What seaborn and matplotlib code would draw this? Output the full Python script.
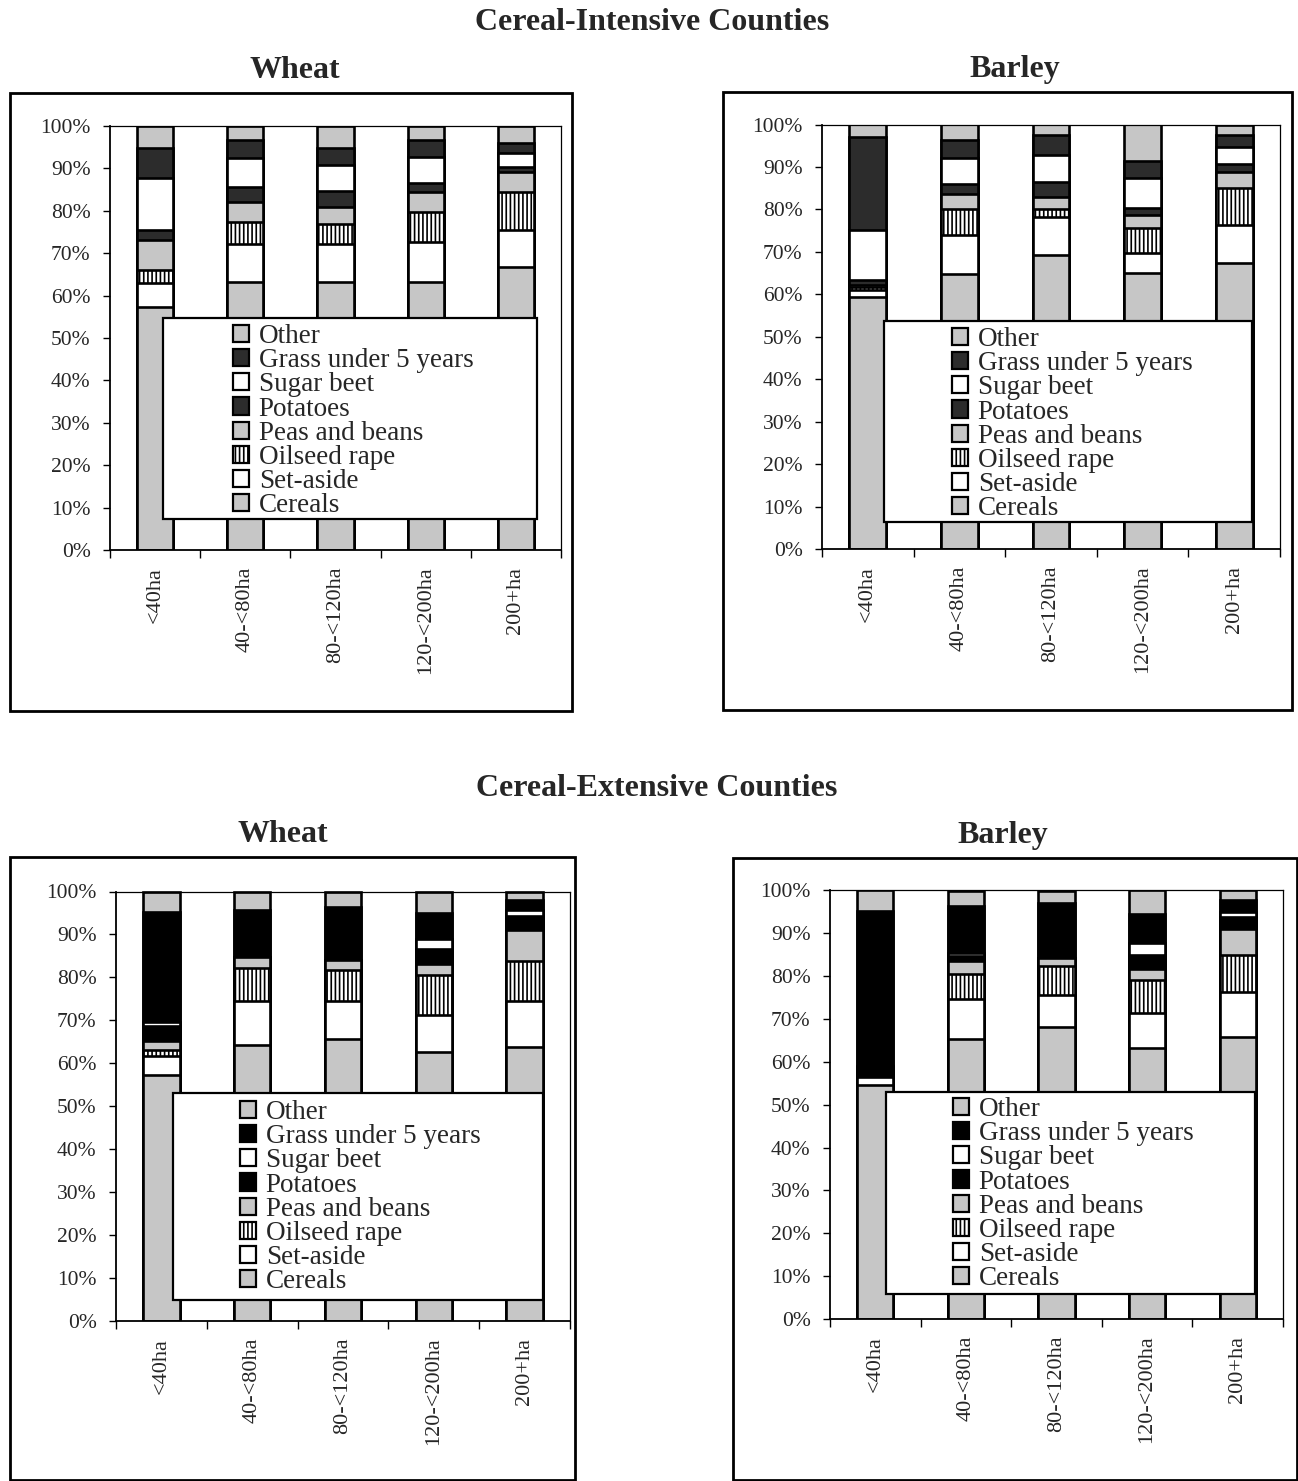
import numpy as np
import matplotlib
matplotlib.use("Agg")
import matplotlib.pyplot as plt
from matplotlib.patches import Patch, Rectangle
from matplotlib.ticker import FixedLocator, FuncFormatter
import seaborn as sns

# Farm size bands on the x axis
SIZES = ["<40ha", "40-<80ha", "80-<120ha", "120-<200ha", "200+ha"]

# Crops, stacked from the bottom of each bar to the top
CROPS = ["Cereals", "Set-aside", "Oilseed rape", "Peas and beans",
         "Potatoes", "Sugar beet", "Grass under 5 years", "Other"]

# Share of farmed area (%) per size band
intensive_wheat = {
    "Cereals":             [57.4, 63.3, 63.3, 63.3, 66.7],
    "Set-aside":           [5.5, 8.8, 8.8, 9.4, 8.8],
    "Oilseed rape":        [3.1, 5.3, 4.7, 6.9, 9.0],
    "Peas and beans":      [7.1, 4.6, 4.0, 4.9, 4.6],
    "Potatoes":            [2.4, 3.7, 3.9, 2.0, 1.3],
    "Sugar beet":          [12.2, 6.7, 6.1, 6.3, 3.2],
    "Grass under 5 years": [7.0, 4.3, 3.9, 3.9, 2.3],
    "Other":               [5.3, 3.3, 5.3, 3.3, 4.1],
}
intensive_barley = {
    "Cereals":             [59.4, 64.7, 69.2, 64.9, 67.3],
    "Set-aside":           [1.7, 9.2, 9.0, 4.9, 9.0],
    "Oilseed rape":        [0.6, 6.2, 1.9, 5.9, 8.8],
    "Peas and beans":      [0.6, 3.6, 2.9, 2.9, 3.7],
    "Potatoes":            [1.0, 2.4, 3.5, 1.8, 1.8],
    "Sugar beet":          [11.8, 5.9, 6.3, 6.9, 4.1],
    "Grass under 5 years": [22.0, 4.3, 4.7, 4.1, 2.8],
    "Other":               [2.9, 3.7, 2.5, 8.6, 2.5],
}
extensive_wheat = {
    "Cereals":             [57.2, 64.2, 65.7, 62.6, 63.7],
    "Set-aside":           [4.6, 10.2, 8.7, 8.7, 10.8],
    "Oilseed rape":        [1.2, 7.7, 7.3, 9.2, 9.4],
    "Peas and beans":      [2.1, 2.7, 2.3, 2.7, 7.1],
    "Potatoes":            [3.6, 0.0, 0.0, 3.4, 3.3],
    "Sugar beet":          [1.0, 0.0, 0.0, 2.4, 1.3],
    "Grass under 5 years": [25.6, 11.0, 12.5, 5.9, 2.4],
    "Other":               [4.7, 4.2, 3.5, 5.1, 2.0],
}
extensive_barley = {
    "Cereals":             [54.6, 65.4, 68.1, 63.3, 65.7],
    "Set-aside":           [1.8, 9.3, 7.6, 8.2, 10.7],
    "Oilseed rape":        [0.0, 5.7, 6.6, 7.6, 8.5],
    "Peas and beans":      [0.0, 3.1, 2.0, 2.5, 6.0],
    "Potatoes":            [2.3, 1.3, 0.0, 3.4, 2.8],
    "Sugar beet":          [0.4, 0.5, 0.0, 2.8, 1.3],
    "Grass under 5 years": [36.2, 11.1, 12.8, 6.8, 2.8],
    "Other":               [4.7, 3.6, 2.9, 5.4, 2.2],
}

sns.set_theme(style="white")
plt.rcParams["font.family"] = ["Liberation Serif", "DejaVu Serif"]
plt.rcParams["hatch.linewidth"] = 1.2

W, H = 1298, 1481
fig = plt.figure(figsize=(W / 100, H / 100), dpi=100)
fig.patch.set_facecolor("white")

GREY = "#c6c6c6"


def crop_style(crop, dark):
    """Face colour and hatch for one crop."""
    if crop in ("Cereals", "Peas and beans", "Other"):
        return GREY, ""
    if crop in ("Set-aside", "Sugar beet"):
        return "white", ""
    if crop == "Oilseed rape":
        return "white", "||||"
    # grass and potatoes
    return ("#000000" if dark else "#2c2c2c"), ""


def px_rect(x0, y0, x1, y1):
    return (x0 / W, 1 - y1 / H, (x1 - x0) / W, (y1 - y0) / H)


def draw_panel(box, shares, dark):
    ax = fig.add_axes(px_rect(*box))
    stack = np.cumsum([shares[c] for c in CROPS], axis=0)
    for i in range(len(CROPS) - 1, -1, -1):
        face, hatch = crop_style(CROPS[i], dark)
        sns.barplot(x=SIZES, y=stack[i], order=SIZES, color=face,
                    saturation=1, width=0.4, edgecolor="black",
                    linewidth=1.9, errorbar=None, ax=ax)
        for bar in ax.containers[-1]:
            bar.set_hatch(hatch)
    ax.set_xlim(-0.5, 4.5)
    ax.set_ylim(0, 100)
    ax.set_xlabel("")
    ax.set_ylabel("")
    ax.yaxis.set_major_locator(FixedLocator(np.arange(0, 101, 10)))
    ax.yaxis.set_major_formatter(FuncFormatter(lambda v, p: f"{v:.0f}%"))
    ax.set_xticks(range(len(SIZES)))
    ax.set_xticklabels(SIZES, rotation=90, fontsize=16, va="top", ha="center")
    ax.set_xticks(np.arange(-0.5, 5, 1.0), minor=True)
    ax.tick_params(axis="x", which="major", length=0, pad=12)
    ax.tick_params(axis="x", which="minor", length=6, width=1.0,
                   direction="out", color="black", bottom=True)
    ax.tick_params(axis="y", which="major", length=5, width=1.0,
                   direction="out", color="black", left=True,
                   labelsize=15.5, pad=9)
    for side, sp in ax.spines.items():
        sp.set_visible(True)
        sp.set_color("black")
        sp.set_linewidth(1.3 if side in ("left", "bottom") else 0.9)
    ax.set_facecolor("white")
    return ax


def add_frame(x0, y0, x1, y1):
    fig.add_artist(Rectangle(px_rect(x0, y0, x1, y1)[:2],
                             (x1 - x0) / W, (y1 - y0) / H,
                             transform=fig.transFigure, fill=False,
                             edgecolor="black", linewidth=2.0, zorder=1))


def add_legend(box, anchor, dark):
    x0, y0, x1, y1 = box
    fig.add_artist(Rectangle(px_rect(x0, y0, x1, y1)[:2],
                             (x1 - x0) / W, (y1 - y0) / H,
                             transform=fig.transFigure, facecolor="white",
                             edgecolor="black", linewidth=1.6, zorder=3))
    handles = []
    for crop in reversed(CROPS):
        face, hatch = crop_style(crop, dark)
        handles.append(Patch(facecolor=face, edgecolor="black", hatch=hatch,
                             linewidth=1.6, label=crop))
    fig.legend(handles=handles, loc="upper left",
               bbox_to_anchor=(anchor[0] / W, 1 - anchor[1] / H),
               frameon=False, fontsize=19.5, handlelength=0.6,
               handleheight=0.6, handletextpad=0.35, labelspacing=-0.03,
               borderpad=0, borderaxespad=0)


# Panel frames
add_frame(10, 93, 572, 711)
add_frame(723, 92, 1292, 710)
add_frame(10, 857, 575, 1480)
add_frame(733, 858, 1297, 1480)

draw_panel((110, 126, 561, 550), intensive_wheat, dark=False)
draw_panel((822, 124.5, 1280, 549), intensive_barley, dark=False)
draw_panel((116, 891.5, 570, 1321), extensive_wheat, dark=True)
draw_panel((830, 890.5, 1283, 1319), extensive_barley, dark=True)

add_legend((163, 318, 537, 519), (233, 324), dark=False)
add_legend((884, 321, 1252, 522), (952, 327), dark=False)
add_legend((173, 1093, 543, 1300), (240, 1100), dark=True)
add_legend((886, 1092, 1255, 1294), (953, 1097), dark=True)

# Titles
fig.text(652 / W, 1 - 22 / H, "Cereal-Intensive Counties", ha="center",
         va="center", fontsize=23, fontweight="bold")
fig.text(295 / W, 1 - 70 / H, "Wheat", ha="center", va="center",
         fontsize=23, fontweight="bold")
fig.text(1015 / W, 1 - 70 / H, "Barley", ha="center", va="center",
         fontsize=23, fontweight="bold")
fig.text(657 / W, 1 - 788 / H, "Cereal-Extensive Counties", ha="center",
         va="center", fontsize=23, fontweight="bold")
fig.text(283 / W, 1 - 835 / H, "Wheat", ha="center", va="center",
         fontsize=23, fontweight="bold")
fig.text(1003 / W, 1 - 835 / H, "Barley", ha="center", va="center",
         fontsize=23, fontweight="bold")

fig.savefig("out.png", dpi=100, facecolor="white")
